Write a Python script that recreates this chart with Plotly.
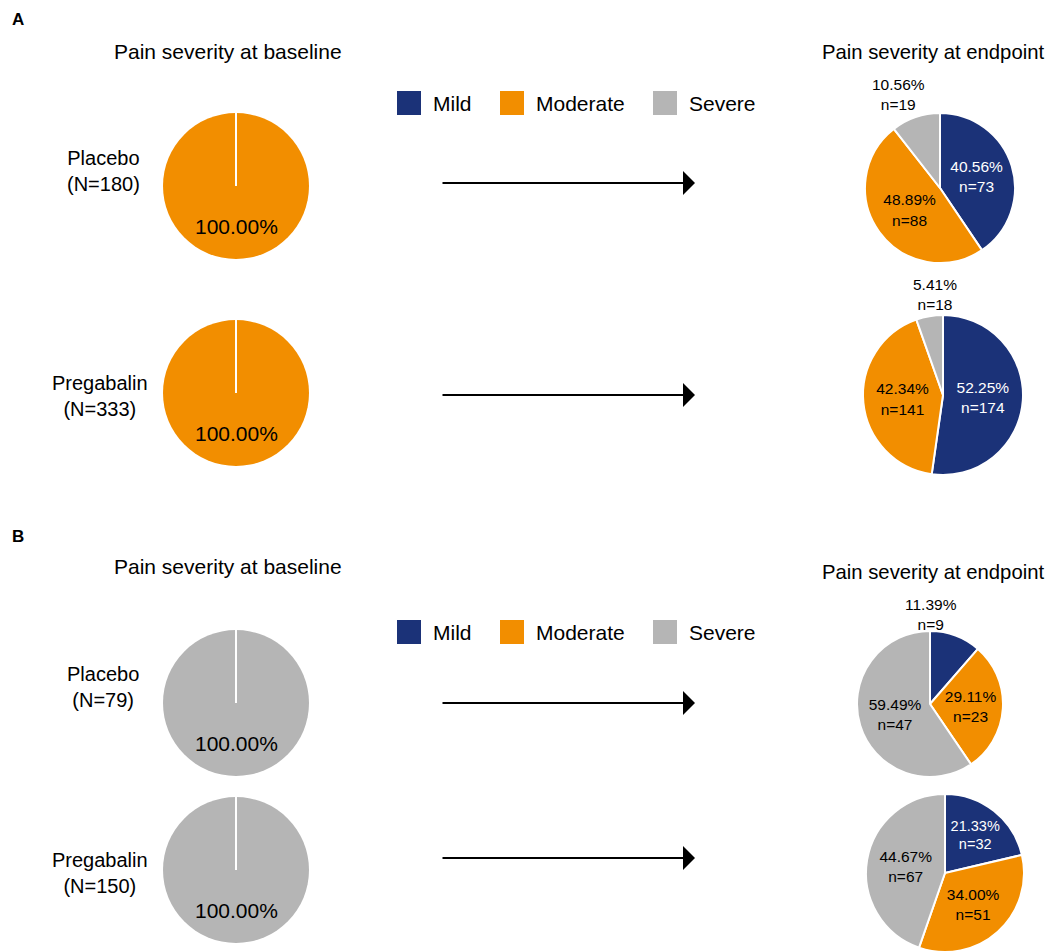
import math
import plotly.graph_objects as go

OFF = 8  # page body margin in the browser
W, H = 1057 - OFF, 952 - OFF

categories = ["Mild", "Moderate", "Severe"]
colors = ["#1b3278", "#f28e00", "#b5b5b5"]

# Endpoint counts per panel / group
panelA_placebo_end = [73, 88, 19]
panelA_pregabalin_end = [174, 141, 18]
panelB_placebo_end = [9, 23, 47]
panelB_pregabalin_end = [32, 51, 67]

panelA_placebo_pct = [40.56, 48.89, 10.56]
panelA_pregabalin_pct = [52.25, 42.34, 5.41]
panelB_placebo_pct = [11.39, 29.11, 59.49]
panelB_pregabalin_pct = [21.33, 34.00, 44.67]

# Baseline counts (all in a single category)
panelA_placebo_base = [0, 180, 0]
panelA_pregabalin_base = [0, 333, 0]
panelB_placebo_base = [0, 0, 79]
panelB_pregabalin_base = [0, 0, 150]

group_labels_A = ["Placebo<br>(N=180)", "Pregabalin<br>(N=333)"]
group_labels_B = ["Placebo<br>(N=79)", "Pregabalin<br>(N=150)"]

FONT = "Liberation Sans, Arial, sans-serif"

fig = go.Figure()


def px_domain(cx, cy, r):
    cx -= OFF
    cy -= OFF
    return dict(x=[max(0, (cx - r) / W), min(1, (cx + r) / W)],
                y=[max(0, 1 - (cy + r) / H), min(1, 1 - (cy - r) / H)])


def P(x, y):
    return (x - OFF) / W, 1 - (y - OFF) / H


annotations = []
shapes = []


def baseline_pie(values, cx, cy, r):
    fig.add_trace(go.Pie(
        labels=categories, values=values, sort=False, direction="clockwise",
        marker=dict(colors=colors, line=dict(color="white", width=0)),
        textinfo="none", hoverinfo="label+value+percent", showlegend=False,
        domain=px_domain(cx, cy, r),
    ))
    # white slice border at the start angle (12 o'clock)
    x0, y0 = P(cx, cy)
    x1, y1 = P(cx, cy - r)
    shapes.append(dict(type="line", xref="paper", yref="paper", x0=x0, y0=y0, x1=x1, y1=y1,
                       line=dict(color="white", width=2)))
    total = sum(values)
    pct = 100.0 * max(values) / total
    # label at the slice's mid angle (bottom)
    lx, ly = P(cx, cy + 0.55 * r)
    annotations.append(dict(x=lx, y=ly, xref="paper", yref="paper", text=f"{pct:.2f}%",
                            showarrow=False, xanchor="center", yanchor="middle",
                            font=dict(size=21, color="black", family=FONT)))


def endpoint_pie(values, pcts, cx, cy, r, outside_idx=None, nudge=(0, 0)):
    texts = []
    tcolors = []
    for i, (v, p) in enumerate(zip(values, pcts)):
        if i == outside_idx:
            texts.append("")
        else:
            texts.append(f"{p:.2f}%<br>n={v}")
        tcolors.append("white" if i == 0 else "black")
    fig.add_trace(go.Pie(
        labels=categories, values=values, sort=False, direction="clockwise",
        marker=dict(colors=colors, line=dict(color="white", width=2)),
        text=texts, textinfo="text", textposition="inside",
        insidetextorientation="horizontal",
        insidetextfont=dict(size=15.5, color=tcolors, family=FONT),
        hoverinfo="label+value+percent", showlegend=False,
        domain=px_domain(cx, cy, r),
    ))
    if outside_idx is not None:
        total = sum(values)
        cum = sum(values[:outside_idx]) + values[outside_idx] / 2
        th = 2 * math.pi * cum / total
        ex = cx + r * math.sin(th) + nudge[0]
        ey = cy - r * math.cos(th) + nudge[1]
        lx, ly = P(ex, ey)
        annotations.append(dict(x=lx, y=ly, xref="paper", yref="paper",
                                text=f"{pcts[outside_idx]:.2f}%<br>n={values[outside_idx]}",
                                showarrow=False, xanchor="center", yanchor="bottom",
                                font=dict(size=15.5, color="black", family=FONT)))


# Panel A
baseline_pie(panelA_placebo_base, 236, 186, 73)
baseline_pie(panelA_pregabalin_base, 236, 393, 73)
endpoint_pie(panelA_placebo_end, panelA_placebo_pct, 940, 188, 75, outside_idx=2, nudge=(-17, -2))
endpoint_pie(panelA_pregabalin_end, panelA_pregabalin_pct, 943, 395, 80, outside_idx=2, nudge=(6, -1))
# Panel B
baseline_pie(panelB_placebo_base, 236, 703, 73)
baseline_pie(panelB_pregabalin_base, 236, 870, 73)
endpoint_pie(panelB_placebo_end, panelB_placebo_pct, 930, 704, 73, outside_idx=0, nudge=(-25, -1))
endpoint_pie(panelB_pregabalin_end, panelB_pregabalin_pct, 945, 873, 79)


def text(x, y, s, size=18, bold=False, anchor="center"):
    xx, yy = P(x, y)
    annotations.append(dict(x=xx, y=yy, xref="paper", yref="paper",
                            text=f"<b>{s}</b>" if bold else s, showarrow=False,
                            xanchor=anchor, yanchor="middle",
                            font=dict(size=size, color="black", family=FONT)))


def arrow(x0, x1, y):
    hx, hy = P(x1, y)
    annotations.append(dict(x=hx, y=hy, xref="paper", yref="paper", ax=-(x1 - x0), ay=0,
                            axref="pixel", ayref="pixel", showarrow=True, arrowhead=1,
                            arrowsize=2, arrowwidth=2, arrowcolor="black", text=""))


def legend(y):
    xs = [397, 500, 653]
    for c, name, x in zip(colors, categories, xs):
        x0, y0 = P(x, y - 12)
        x1, y1 = P(x + 24, y + 12)
        shapes.append(dict(type="rect", xref="paper", yref="paper", x0=x0, y0=y0, x1=x1, y1=y1,
                           fillcolor=c, line=dict(width=0)))
        text(x + 34, y, name, size=21, anchor="left")


text(18, 20, "A", size=17, bold=True)
text(18, 536, "B", size=17, bold=True)
text(228, 52, "Pain severity at baseline", size=21)
text(933, 52, "Pain severity at endpoint", size=20.3)
text(228, 566, "Pain severity at baseline", size=21)
text(933, 572, "Pain severity at endpoint", size=20.3)
text(103, 171, group_labels_A[0], size=20)
text(100, 396, group_labels_A[1], size=20)
text(103, 687, group_labels_B[0], size=20)
text(100, 873, group_labels_B[1], size=20)

legend(103)
legend(632)

arrow(441, 695, 183)
arrow(441, 695, 395)
arrow(441, 695, 703)
arrow(441, 695, 858)

fig.update_layout(
    width=W, height=H, margin=dict(l=0, r=0, t=0, b=0),
    paper_bgcolor="white", plot_bgcolor="white",
    font=dict(family=FONT, color="black"),
    annotations=annotations, shapes=shapes, showlegend=False,
)

fig.write_html("out.html")
